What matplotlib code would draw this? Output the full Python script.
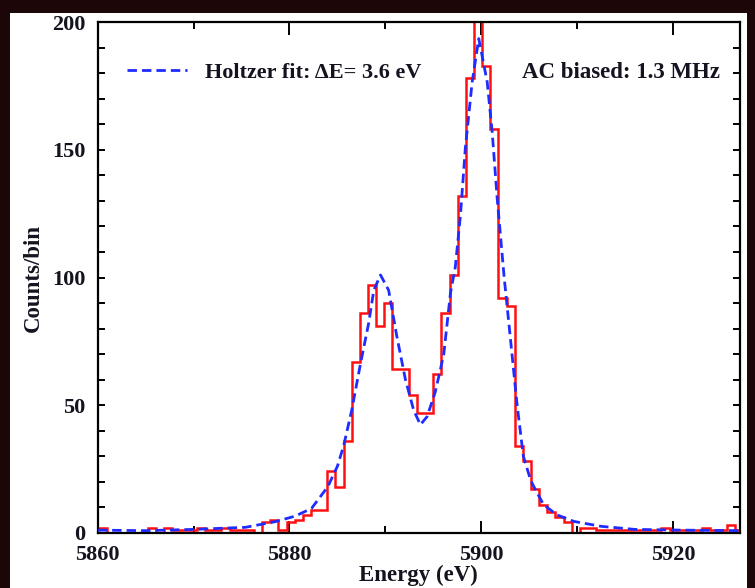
import numpy as np
import matplotlib
matplotlib.use("Agg")
import matplotlib.pyplot as plt
from matplotlib.patches import Rectangle
from matplotlib.ticker import MultipleLocator

# ---- data ----
bin_start = 5859.3
bin_width = 0.85
counts = [2, 2, 0, 0, 0, 0, 0, 2, 0, 2,
          1, 1, 1, 2, 1, 1, 2, 1, 1, 1,
          0, 4, 5, 1, 4, 5, 7, 9, 9, 24,
          18, 36, 67, 86, 97, 81, 90, 64, 64, 54,
          47, 47, 62, 86, 101, 132, 178, 212, 183, 158,
          92, 89, 34, 28, 17, 11, 8, 6, 4, 0,
          2, 2, 1, 1, 1, 1, 1, 1, 1, 1,
          2, 1, 1, 1, 1, 2, 1, 1, 3, 1]

fit_energy = [5860.0, 5865.0, 5870.0, 5875.4, 5878.5, 5880.6, 5882.3, 5884.0, 5885.0,
              5885.65, 5886.5, 5887.4, 5888.26, 5888.8, 5889.5, 5890.35, 5891.2, 5892.1,
              5892.96, 5893.66, 5894.36, 5895.2, 5895.75, 5896.1, 5896.8, 5897.3, 5897.84,
              5898.35, 5899.06, 5899.75, 5900.63, 5901.15, 5901.67, 5902.4, 5903.0, 5903.75,
              5904.4, 5905.15, 5905.5, 5906.5, 5907.9, 5909.7, 5912.5, 5916.0, 5921.1, 5927.0]
fit_counts = [1.0, 0.8, 1.3, 2.1, 4.3, 6.5, 9.5, 18, 26,
              34, 48, 66, 82, 95, 101, 95, 77, 60,
              48, 42.3, 45.5, 55, 64, 70, 94, 104, 124.5,
              150.7, 176.6, 193.6, 176.6, 157, 131, 100, 78, 50,
              30, 20.7, 18, 11, 7, 4.4, 2.5, 1.3, 1.0, 0.8]

x_ticks = [5860, 5880, 5900, 5920]
y_ticks = [0, 50, 100, 150, 200]
fit_label = "Holtzer fit: \u0394E= 3.6 eV"
note_text = "AC biased: 1.3 MHz"

# ---- figure ----
W, H = 755, 588
fig = plt.figure(figsize=(W / 100, H / 100), dpi=100)
fig.patch.set_facecolor('#1c0608')
fig.add_artist(Rectangle((10 / W, 0), (747 - 10) / W, (H - 13) / H,
                         transform=fig.transFigure, facecolor='white',
                         edgecolor='none', zorder=0))

L, R, T, B = 97.7, 740, 22.3, 532.7
ax = fig.add_axes([L / W, 1 - B / H, (R - L) / W, (B - T) / H])
ax.set_facecolor('white')

font = ['Liberation Serif', 'DejaVu Serif']
tc = '#141420'

edges = bin_start + bin_width * np.arange(len(counts) + 1)
ax.stairs(counts, edges, color='#ff1010', lw=1.8, zorder=2)
ax.plot(fit_energy, fit_counts, color='#1f2cff', lw=2.0,
        ls=(0, (3.4, 1.8)), label=fit_label, zorder=3)

ax.set_xlim(5860, 5927)
ax.set_ylim(0, 200)
ax.set_xticks(x_ticks)
ax.set_yticks(y_ticks)
ax.xaxis.set_minor_locator(MultipleLocator(10))
ax.yaxis.set_minor_locator(MultipleLocator(10))
ax.tick_params(which='both', direction='in', top=True, right=True,
               colors='black', width=1.4)
ax.tick_params(axis='x', which='major', length=9, pad=8.5)
ax.tick_params(axis='x', which='minor', length=5)
ax.tick_params(axis='y', which='major', length=5, pad=9)
ax.tick_params(axis='y', which='minor', length=5)
for lab in ax.get_xticklabels() + ax.get_yticklabels():
    lab.set_family(font)
    lab.set_fontsize(16)
    lab.set_fontweight('bold')
    lab.set_color(tc)
for s in ax.spines.values():
    s.set_linewidth(1.6)

ax.set_xlabel('Energy (eV)', family=font, fontsize=16.5, fontweight='bold',
              color=tc, labelpad=0)
ax.set_ylabel('Counts/bin', family=font, fontsize=16.5, fontweight='bold',
              color=tc, labelpad=6)

leg = ax.legend(loc='center left', bbox_to_anchor=(0.0456, 0.902), frameon=False,
                borderaxespad=0, borderpad=0,
                handlelength=2.7, handletextpad=0.8,
                prop={'family': font, 'size': 16, 'weight': 'bold'})
for t in leg.get_texts():
    t.set_color(tc)

ax.text(0.969, 0.902, note_text, transform=ax.transAxes, ha='right', va='center',
        family=font, fontsize=16.5, fontweight='bold', color=tc)

fig.savefig('out.png', dpi=100, facecolor=fig.get_facecolor())
